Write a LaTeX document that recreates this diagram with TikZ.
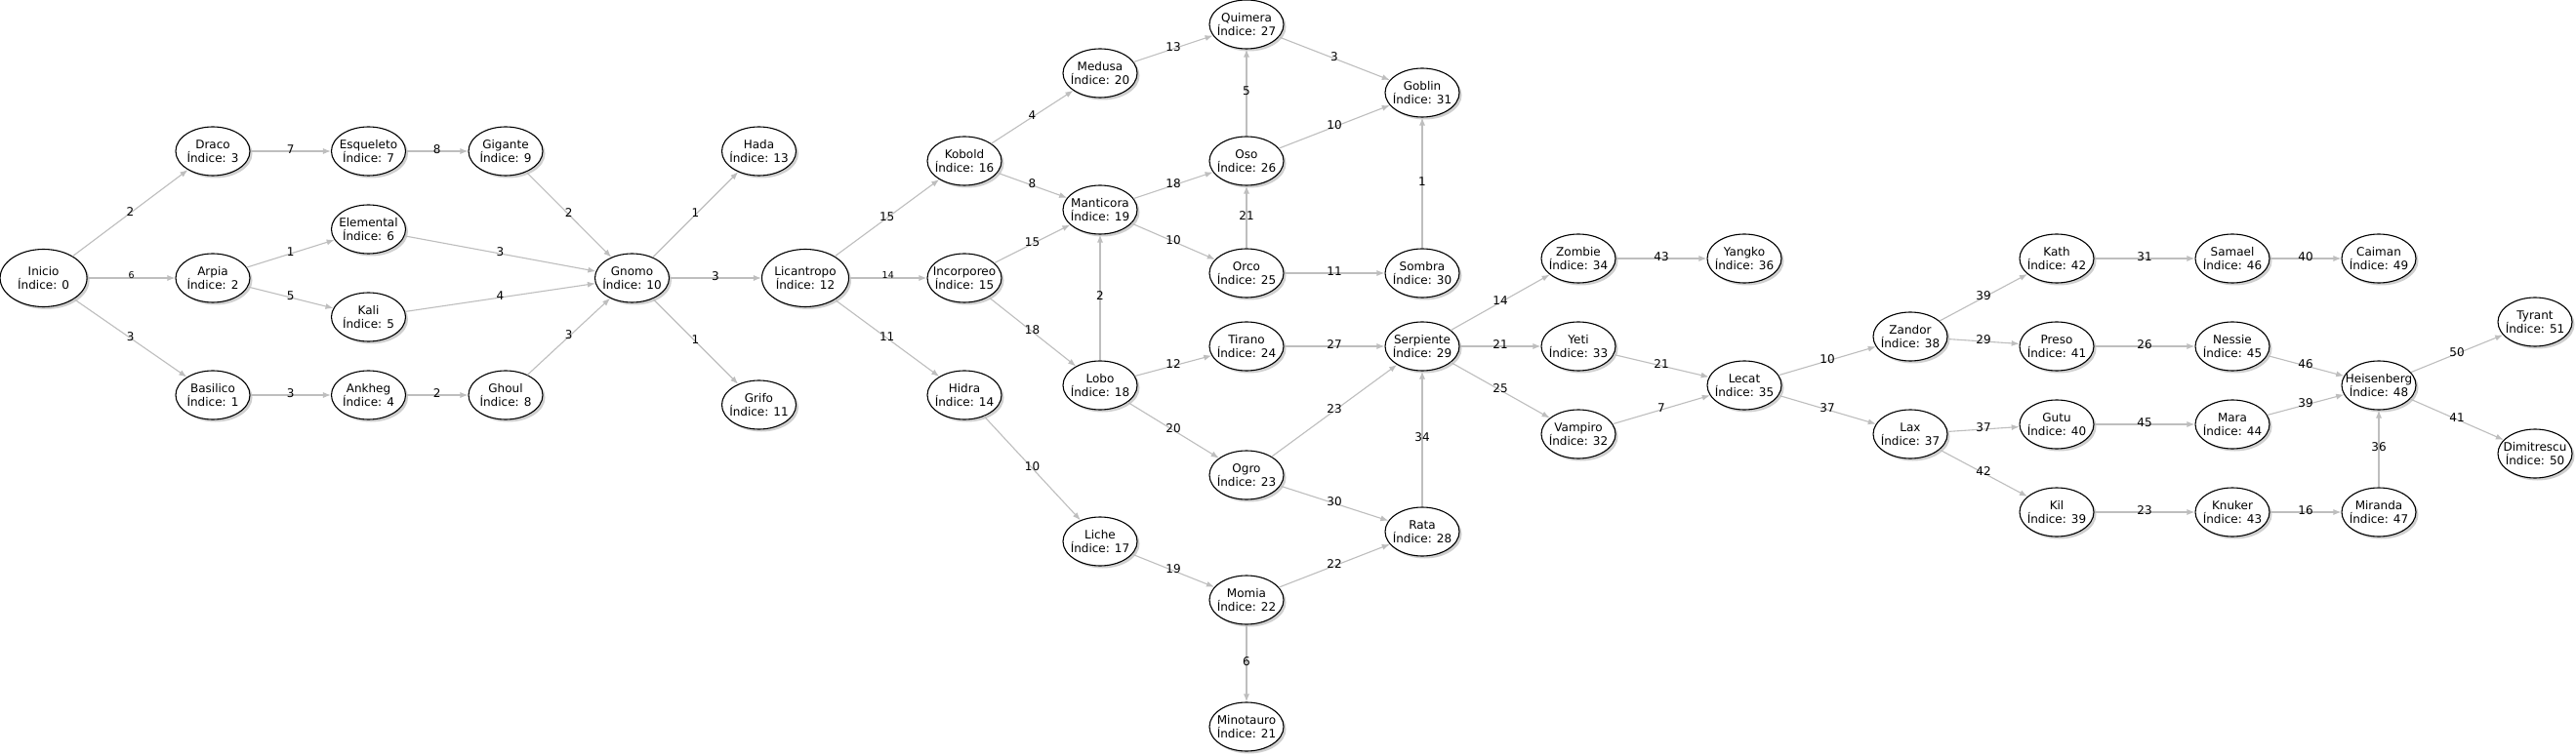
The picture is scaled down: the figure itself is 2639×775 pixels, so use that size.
\documentclass[tikz,border=0pt]{standalone}
\usepackage{fontspec}
\setmainfont{DejaVu Sans}
\usetikzlibrary{shapes.geometric,arrows.meta,shadows}
\definecolor{edgegray}{RGB}{190,190,190}
\definecolor{shadowgray}{RGB}{120,120,120}
\tikzset{
  monster/.style={ellipse, draw=black, line width=1.1pt, fill=white,
    minimum width=76pt, minimum height=50pt, inner xsep=-30pt, inner ysep=-10pt,
    align=center, font=\fontsize{12}{14.5}\selectfont,
    drop shadow={shadow xshift=2.5pt, shadow yshift=-2.5pt, opacity=0.35, fill=shadowgray}},
  bigmonster/.style={monster, minimum width=89pt, minimum height=59pt},
  edge/.style={draw=edgegray, line width=1.1pt, -{Latex[length=8pt,width=6pt]}},
  lbl/.style={font=\fontsize{12}{14}\selectfont, inner sep=0pt, yshift=1.5pt},
  smalllbl/.style={font=\fontsize{9.5}{11}\selectfont, inner sep=0pt, yshift=3pt}
}
\begin{document}
\begin{tikzpicture}[x=1pt,y=-1pt]
\fill[white] (0,0) rectangle (2639,775);
\useasboundingbox (0,0) rectangle (2639,775);
\node[bigmonster] (n0) at (44.6,285) {Inicio\\Índice: 0};
\node[monster] (n3) at (218,155) {Draco\\Índice: 3};
\node[monster] (n2) at (218,285) {Arpia\\Índice: 2};
\node[monster] (n1) at (218,405) {Basilico\\Índice: 1};
\node[monster] (n7) at (377.5,155) {Esqueleto\\Índice: 7};
\node[monster] (n6) at (377.5,235) {Elemental\\Índice: 6};
\node[monster] (n5) at (377.5,325) {Kali\\Índice: 5};
\node[monster] (n4) at (377.5,405) {Ankheg\\Índice: 4};
\node[monster] (n9) at (518,155) {Gigante\\Índice: 9};
\node[monster] (n8) at (518,405) {Ghoul\\Índice: 8};
\node[monster] (n10) at (647.5,285) {Gnomo\\Índice: 10};
\node[monster] (n13) at (777.5,155) {Hada\\Índice: 13};
\node[monster] (n11) at (777.5,415) {Grifo\\Índice: 11};
\node[bigmonster] (n12) at (825,285) {Licantropo\\Índice: 12};
\node[monster] (n16) at (988,165) {Kobold\\Índice: 16};
\node[monster] (n15) at (988,285) {Incorporeo\\Índice: 15};
\node[monster] (n14) at (988,405) {Hidra\\Índice: 14};
\node[monster] (n20) at (1127,75) {Medusa\\Índice: 20};
\node[monster] (n19) at (1127,215) {Manticora\\Índice: 19};
\node[monster] (n18) at (1127,395) {Lobo\\Índice: 18};
\node[monster] (n17) at (1127,555) {Liche\\Índice: 17};
\node[monster] (n27) at (1277,25) {Quimera\\Índice: 27};
\node[monster] (n26) at (1277,165) {Oso\\Índice: 26};
\node[monster] (n25) at (1277,280) {Orco\\Índice: 25};
\node[monster] (n24) at (1277,355) {Tirano\\Índice: 24};
\node[monster] (n23) at (1277,487) {Ogro\\Índice: 23};
\node[monster] (n22) at (1277,615) {Momia\\Índice: 22};
\node[monster] (n21) at (1277,745) {Minotauro\\Índice: 21};
\node[monster] (n31) at (1457,95) {Goblin\\Índice: 31};
\node[monster] (n30) at (1457,280) {Sombra\\Índice: 30};
\node[monster] (n29) at (1457,355) {Serpiente\\Índice: 29};
\node[monster] (n28) at (1457,545) {Rata\\Índice: 28};
\node[monster] (n34) at (1617,265) {Zombie\\Índice: 34};
\node[monster] (n33) at (1617,355) {Yeti\\Índice: 33};
\node[monster] (n32) at (1617,445) {Vampiro\\Índice: 32};
\node[monster] (n36) at (1787,265) {Yangko\\Índice: 36};
\node[monster] (n35) at (1787,395) {Lecat\\Índice: 35};
\node[monster] (n38) at (1957,345) {Zandor\\Índice: 38};
\node[monster] (n37) at (1957,445) {Lax\\Índice: 37};
\node[monster] (n42) at (2107,265) {Kath\\Índice: 42};
\node[monster] (n41) at (2107,355) {Preso\\Índice: 41};
\node[monster] (n40) at (2107,435) {Gutu\\Índice: 40};
\node[monster] (n39) at (2107,525) {Kil\\Índice: 39};
\node[monster] (n46) at (2287,265) {Samael\\Índice: 46};
\node[monster] (n45) at (2287,355) {Nessie\\Índice: 45};
\node[monster] (n44) at (2287,435) {Mara\\Índice: 44};
\node[monster] (n43) at (2287,525) {Knuker\\Índice: 43};
\node[monster] (n49) at (2437,265) {Caiman\\Índice: 49};
\node[monster] (n48) at (2437,395) {Heisenberg\\Índice: 48};
\node[monster] (n47) at (2437,525) {Miranda\\Índice: 47};
\node[monster] (n51) at (2597,330) {Tyrant\\Índice: 51};
\node[monster] (n50) at (2597,465) {Dimitrescu\\Índice: 50};

\draw[edge] (n0) -- node[lbl]{2} (n3);
\draw[edge] (n0) -- node[smalllbl]{6} (n2);
\draw[edge] (n0) -- node[lbl]{3} (n1);
\draw[edge] (n3) -- node[lbl]{7} (n7);
\draw[edge] (n7) -- node[lbl]{8} (n9);
\draw[edge] (n2) -- node[lbl]{1} (n6);
\draw[edge] (n2) -- node[lbl]{5} (n5);
\draw[edge] (n1) -- node[lbl]{3} (n4);
\draw[edge] (n4) -- node[lbl]{2} (n8);
\draw[edge] (n9) -- node[lbl]{2} (n10);
\draw[edge] (n6) -- node[lbl]{3} (n10);
\draw[edge] (n5) -- node[lbl]{4} (n10);
\draw[edge] (n8) -- node[lbl]{3} (n10);
\draw[edge] (n10) -- node[lbl]{1} (n13);
\draw[edge] (n10) -- node[lbl]{1} (n11);
\draw[edge] (n10) -- node[lbl]{3} (n12);
\draw[edge] (n12) -- node[lbl]{15} (n16);
\draw[edge] (n12) -- node[smalllbl]{14} (n15);
\draw[edge] (n12) -- node[lbl]{11} (n14);
\draw[edge] (n16) -- node[lbl]{4} (n20);
\draw[edge] (n16) -- node[lbl]{8} (n19);
\draw[edge] (n15) -- node[lbl]{15} (n19);
\draw[edge] (n15) -- node[lbl]{18} (n18);
\draw[edge] (n14) -- node[lbl]{10} (n17);
\draw[edge] (n18) -- node[lbl]{2} (n19);
\draw[edge] (n20) -- node[lbl]{13} (n27);
\draw[edge] (n19) -- node[lbl]{18} (n26);
\draw[edge] (n19) -- node[lbl]{10} (n25);
\draw[edge] (n18) -- node[lbl]{12} (n24);
\draw[edge] (n18) -- node[lbl]{20} (n23);
\draw[edge] (n17) -- node[lbl]{19} (n22);
\draw[edge] (n26) -- node[lbl]{5} (n27);
\draw[edge] (n25) -- node[lbl]{21} (n26);
\draw[edge] (n27) -- node[lbl]{3} (n31);
\draw[edge] (n26) -- node[lbl]{10} (n31);
\draw[edge] (n25) -- node[lbl]{11} (n30);
\draw[edge] (n30) -- node[lbl]{1} (n31);
\draw[edge] (n24) -- node[lbl]{27} (n29);
\draw[edge] (n23) -- node[lbl]{23} (n29);
\draw[edge] (n23) -- node[lbl]{30} (n28);
\draw[edge] (n22) -- node[lbl]{22} (n28);
\draw[edge] (n22) -- node[lbl]{6} (n21);
\draw[edge] (n28) -- node[lbl]{34} (n29);
\draw[edge] (n29) -- node[lbl]{14} (n34);
\draw[edge] (n29) -- node[lbl]{21} (n33);
\draw[edge] (n29) -- node[lbl]{25} (n32);
\draw[edge] (n34) -- node[lbl]{43} (n36);
\draw[edge] (n33) -- node[lbl]{21} (n35);
\draw[edge] (n32) -- node[lbl]{7} (n35);
\draw[edge] (n35) -- node[lbl]{10} (n38);
\draw[edge] (n35) -- node[lbl]{37} (n37);
\draw[edge] (n38) -- node[lbl]{39} (n42);
\draw[edge] (n38) -- node[lbl]{29} (n41);
\draw[edge] (n37) -- node[lbl]{37} (n40);
\draw[edge] (n37) -- node[lbl]{42} (n39);
\draw[edge] (n42) -- node[lbl]{31} (n46);
\draw[edge] (n46) -- node[lbl]{40} (n49);
\draw[edge] (n41) -- node[lbl]{26} (n45);
\draw[edge] (n45) -- node[lbl]{46} (n48);
\draw[edge] (n40) -- node[lbl]{45} (n44);
\draw[edge] (n44) -- node[lbl]{39} (n48);
\draw[edge] (n39) -- node[lbl]{23} (n43);
\draw[edge] (n43) -- node[lbl]{16} (n47);
\draw[edge] (n47) -- node[lbl]{36} (n48);
\draw[edge] (n48) -- node[lbl]{50} (n51);
\draw[edge] (n48) -- node[lbl]{41} (n50);
\end{tikzpicture}
\end{document}
